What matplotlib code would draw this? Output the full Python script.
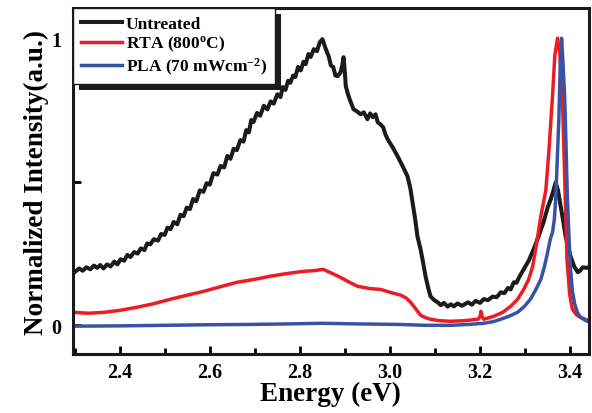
import numpy as np
import matplotlib
matplotlib.use('Agg')
import matplotlib.pyplot as plt
from matplotlib.patches import Rectangle
from matplotlib.ticker import MultipleLocator

plt.rcParams['font.family'] = 'Liberation Serif'
plt.rcParams['font.weight'] = 'bold'
plt.rcParams['mathtext.fontset'] = 'custom'
plt.rcParams['mathtext.rm'] = 'Liberation Serif:bold'
plt.rcParams['mathtext.it'] = 'Liberation Serif:bold'
plt.rcParams['mathtext.bf'] = 'Liberation Serif:bold'

# valores (energia em eV, intensidade normalizada)
e_untreated = [2.300, 2.310, 2.318, 2.326, 2.335, 2.343, 2.350, 2.357, 2.364, 2.372, 2.380,
               2.388, 2.395, 2.402, 2.410, 2.417, 2.424, 2.432, 2.440, 2.447, 2.455, 2.461,
               2.468, 2.476, 2.485, 2.492, 2.500, 2.506, 2.513, 2.520, 2.528, 2.535, 2.542,
               2.549, 2.556, 2.563, 2.570, 2.578, 2.586, 2.593, 2.600, 2.608, 2.617, 2.624,
               2.632, 2.639, 2.646, 2.653, 2.660, 2.668, 2.675, 2.681, 2.687, 2.692, 2.697,
               2.705, 2.712, 2.720, 2.728, 2.735, 2.742, 2.750, 2.757, 2.762, 2.768, 2.774,
               2.779, 2.785, 2.790, 2.796, 2.802, 2.808, 2.813, 2.819, 2.824, 2.831, 2.838,
               2.844, 2.850, 2.857, 2.864, 2.869, 2.874, 2.879, 2.884, 2.890, 2.894, 2.897,
               2.900, 2.902, 2.906, 2.910, 2.915, 2.919, 2.927, 2.935, 2.942, 2.950, 2.956,
               2.962, 2.968, 2.973, 2.979, 2.985, 2.990, 2.995, 3.006, 3.017, 3.028, 3.039,
               3.045, 3.050, 3.056, 3.061, 3.068, 3.074, 3.079, 3.085, 3.090, 3.098, 3.106,
               3.113, 3.120, 3.128, 3.135, 3.142, 3.150, 3.160, 3.173, 3.182, 3.190, 3.200,
               3.208, 3.218, 3.228, 3.237, 3.246, 3.254, 3.262, 3.268, 3.275, 3.281, 3.287,
               3.297, 3.308, 3.319, 3.330, 3.341, 3.350, 3.357, 3.363, 3.368, 3.373, 3.379,
               3.385, 3.390, 3.396, 3.401, 3.409, 3.417, 3.422, 3.428, 3.437, 3.446]
i_untreated = [0.185, 0.198, 0.190, 0.202, 0.195, 0.208, 0.200, 0.210, 0.198, 0.212, 0.205,
               0.222, 0.212, 0.230, 0.225, 0.245, 0.238, 0.255, 0.250, 0.268, 0.262, 0.285,
               0.282, 0.300, 0.295, 0.318, 0.315, 0.340, 0.335, 0.360, 0.352, 0.385, 0.380,
               0.410, 0.405, 0.440, 0.432, 0.470, 0.465, 0.495, 0.490, 0.530, 0.525, 0.555,
               0.550, 0.590, 0.580, 0.615, 0.610, 0.645, 0.640, 0.680, 0.672, 0.715, 0.708,
               0.740, 0.730, 0.765, 0.752, 0.780, 0.772, 0.805, 0.795, 0.830, 0.820, 0.852,
               0.845, 0.870, 0.865, 0.900, 0.888, 0.918, 0.910, 0.945, 0.935, 0.962, 0.955,
               0.985, 0.997, 0.965, 0.937, 0.905, 0.900, 0.870, 0.868, 0.880, 0.905, 0.934,
               0.880, 0.833, 0.810, 0.790, 0.770, 0.753, 0.745, 0.735, 0.742, 0.718, 0.738,
               0.725, 0.735, 0.707, 0.700, 0.690, 0.665, 0.648, 0.620, 0.589, 0.555, 0.519,
               0.480, 0.429, 0.370, 0.310, 0.265, 0.215, 0.171, 0.130, 0.101, 0.088, 0.080,
               0.070, 0.078, 0.065, 0.073, 0.066, 0.076, 0.068, 0.080, 0.072, 0.085, 0.078,
               0.091, 0.088, 0.100, 0.098, 0.115, 0.112, 0.130, 0.125, 0.150, 0.148, 0.168,
               0.195, 0.225, 0.265, 0.310, 0.359, 0.410, 0.439, 0.470, 0.498, 0.470, 0.415,
               0.360, 0.310, 0.270, 0.240, 0.205, 0.185, 0.190, 0.202, 0.200, 0.206]

e_rta = [2.300, 2.330, 2.364, 2.400, 2.439, 2.475, 2.513, 2.550, 2.586, 2.625, 2.661,
         2.700, 2.734, 2.770, 2.808, 2.830, 2.852, 2.870, 2.890, 2.910, 2.928, 2.955,
         2.979, 3.000, 3.024, 3.036, 3.046, 3.057, 3.068, 3.080, 3.090, 3.110, 3.135,
         3.165, 3.195, 3.200, 3.202, 3.205, 3.208, 3.230, 3.250, 3.268, 3.283, 3.297,
         3.308, 3.317, 3.326, 3.335, 3.346, 3.353, 3.361, 3.366, 3.372, 3.377, 3.383,
         3.388, 3.393, 3.399, 3.405, 3.415, 3.423, 3.435, 3.446]
i_rta = [0.045, 0.042, 0.045, 0.052, 0.063, 0.075, 0.091, 0.105, 0.118, 0.135, 0.150,
         0.160, 0.171, 0.180, 0.188, 0.190, 0.195, 0.182, 0.167, 0.150, 0.136, 0.128,
         0.125, 0.115, 0.105, 0.095, 0.080, 0.058, 0.035, 0.026, 0.021, 0.016, 0.014,
         0.016, 0.021, 0.030, 0.049, 0.030, 0.021, 0.031, 0.045, 0.066, 0.090, 0.125,
         0.160, 0.206, 0.290, 0.380, 0.470, 0.610, 0.800, 0.940, 1.000, 0.950, 0.790,
         0.510, 0.230, 0.108, 0.056, 0.035, 0.028, 0.020, 0.014]

e_pla = [2.300, 2.400, 2.500, 2.600, 2.690, 2.780, 2.850, 2.920, 3.020, 3.080, 3.135,
         3.175, 3.208, 3.230, 3.246, 3.265, 3.283, 3.298, 3.312, 3.324, 3.335, 3.343,
         3.350, 3.356, 3.361, 3.365, 3.368, 3.372, 3.375, 3.378, 3.381, 3.384, 3.388,
         3.391, 3.394, 3.398, 3.401, 3.405, 3.410, 3.416, 3.423, 3.435, 3.446]
i_pla = [-0.003, -0.002, 0.000, 0.002, 0.003, 0.005, 0.007, 0.005, 0.003, 0.000, 0.000,
         0.003, 0.007, 0.013, 0.021, 0.032, 0.045, 0.065, 0.091, 0.125, 0.160, 0.205,
         0.254, 0.300, 0.324, 0.370, 0.439, 0.600, 0.718, 0.900, 1.000, 0.920, 0.790,
         0.620, 0.439, 0.290, 0.195, 0.120, 0.075, 0.045, 0.028, 0.016, 0.010]

fig = plt.figure(figsize=(5.92, 4.14), dpi=100)
ax = fig.add_axes([0.123, 0.1425, 0.872, 0.8355])

ax.plot(e_untreated, i_untreated, color='#1c1a1a', lw=2.9, label='Untreated')
ax.plot(e_rta, i_rta, color='#ec1c24', lw=2.5, label='RTA (800$^{\\mathregular{o}}$C)')
ax.plot(e_pla, i_pla, color='#3953a4', lw=2.5, label='PLA (70 mWcm$^{\\mathregular{-2}}$)')

ax.set_xlim(2.296, 3.442)
ax.set_ylim(-0.10, 1.105)
ax.xaxis.set_major_locator(MultipleLocator(0.2))
ax.xaxis.set_minor_locator(MultipleLocator(0.1))
ax.set_yticks([0, 0.5, 1])
ax.set_yticklabels(['0', '', '1'])
ax.tick_params(which='both', direction='in', top=False, right=False, width=2, labelsize=14.5)
ax.tick_params(which='major', length=6)
ax.tick_params(which='minor', length=4)
ax.tick_params(axis='x', pad=6)
ax.tick_params(axis='y', pad=8)
for s in ax.spines.values():
    s.set_linewidth(2.2)
    s.set_color('#1c1a1a')

ax.set_xlabel('Energy (eV)', fontsize=19.5, fontweight='bold', labelpad=-1)
ax.set_ylabel('Normalized Intensity(a.u.)', fontsize=19.5, fontweight='bold', labelpad=2)

leg = ax.legend(loc='upper left', borderaxespad=0, fancybox=False, framealpha=1,
                edgecolor='#1c1a1a', fontsize=12.5, handlelength=2.4, handletextpad=0.2,
                labelspacing=0.12, borderpad=0.45)
leg.get_frame().set_linewidth(1.0)
leg.set_zorder(5)

# sombra preta deslocada da legenda
fig.canvas.draw()
bb = leg.get_window_extent().transformed(fig.transFigure.inverted())
dx, dy = 6 / 592, 6 / 414
sh = Rectangle((bb.x0 + dx, bb.y0 - dy), bb.width, bb.height, transform=fig.transFigure,
               facecolor='#1c1a1a', edgecolor='none', zorder=4.5)
ax.add_artist(sh)

plt.savefig('out.png', dpi=100)
